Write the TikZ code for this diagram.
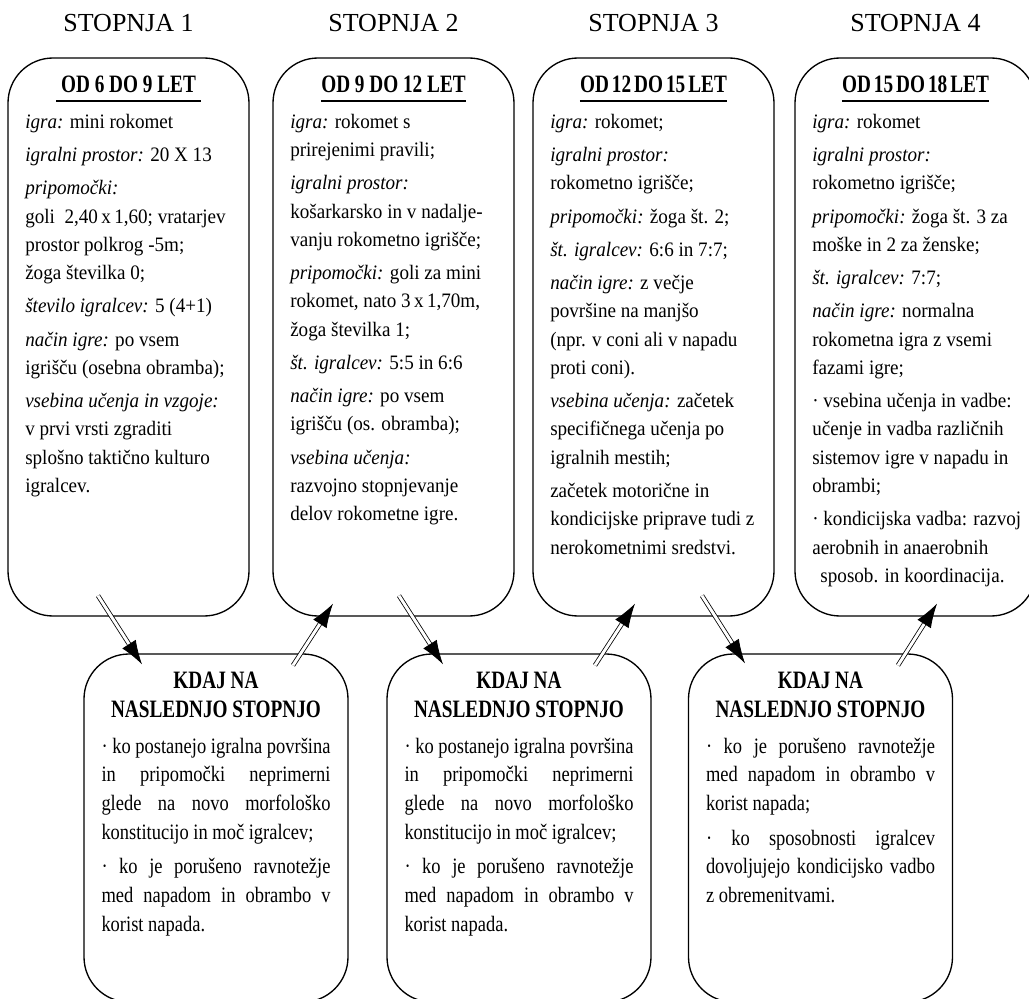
\documentclass[tikz,border=0pt]{standalone}
\usepackage{fontspec}
\setmainfont{Liberation Serif}
\newfontfamily\bodyfont{Liberation Serif}[FakeStretch=0.93]
\newfontfamily\hdrfont{Liberation Serif}[FakeStretch=0.77]
\newfontfamily\notefont{Liberation Serif}[FakeStretch=0.84]
\usetikzlibrary{arrows.meta}

\newcommand{\jl}[1]{\makebox[171.75pt][s]{#1}}
\newcommand{\firstline}{\rule{0pt}{0.8em}}

\begin{document}
\begin{tikzpicture}[x=0.75pt,y=-0.75pt,>=Latex,
  stagebox/.style={draw,line width=1pt,rounded corners=33.75pt,
    minimum width=180.75pt,minimum height=418.5pt,inner sep=0pt},
  kdajbox/.style={draw,line width=1pt,rounded corners=33.75pt,
    minimum width=198pt,minimum height=261pt,inner sep=0pt},
  stagelabel/.style={anchor=base,inner sep=0pt,
    font=\fontsize{19.5pt}{22pt}\selectfont},
  agehdr/.style={anchor=south,inner xsep=0pt,inner ysep=6pt,text depth=0pt,
    minimum width=108pt,font=\hdrfont\bfseries\fontsize{18.75pt}{20pt}\selectfont},
  bodytext/.style={anchor=north west,inner sep=0pt,align=left,
    font=\bodyfont\fontsize{15.4pt}{21.2pt}\selectfont},
  kdajhdr/.style={anchor=north,inner sep=0pt,align=center,
    font=\hdrfont\bfseries\fontsize{18.75pt}{21.75pt}\selectfont},
  kdajtext/.style={anchor=north,inner sep=0pt,align=left,
    font=\notefont\fontsize{16.5pt}{21.5pt}\selectfont},
  dblarrow/.style={double,double distance=2.2pt,line width=0.6pt,
    -{Latex[length=18pt,width=12pt]}}]
  \useasboundingbox (0,0) rectangle (1029,999);
  \fill[white] (0,0) rectangle (1029,999);
  \clip (0,0) rectangle (1029,999);

  % stages
  \node[stagelabel] (l1) at (128.5,32) {STOPNJA 1};
  \node[stagelabel] (l2) at (393.5,32) {STOPNJA 2};
  \node[stagelabel] (l3) at (653.5,32) {STOPNJA 3};
  \node[stagelabel] (l4) at (915.5,32) {STOPNJA 4};

  \node[stagebox] (s1) at (128.5,337) {};
  \node[stagebox] (s2) at (393.5,337) {};
  \node[stagebox] (s3) at (653.5,337) {};
  \node[stagebox] (s4) at (915.5,337) {};

  \node[agehdr] (h1) at (128.5,101) {OD 6 DO 9 LET};
  \node[agehdr] (h2) at (393.5,101) {OD 9 DO 12 LET};
  \node[agehdr] (h3) at (653.5,101) {\spaceskip=0.12em\relax OD 12 DO 15 LET};
  \node[agehdr] (h4) at (915.5,101) {\spaceskip=0.12em\relax OD 15 DO 18 LET};
  \draw[line width=1pt] (h1.south west) -- (h1.south east);
  \draw[line width=1pt] (h2.south west) -- (h2.south east);
  \draw[line width=1pt] (h3.south west) -- (h3.south east);
  \draw[line width=1pt] (h4.south west) -- (h4.south east);

  \node[bodytext] (t1) at (25,111.6) {\firstline\textit{igra:} mini rokomet\\[3.75pt]
    \textit{igralni prostor:} 20 X 13\\[3.75pt]
    \textit{pripomočki:}\\
    goli\ \ 2,40\,x\,1,60; vratarjev\\
    prostor polkrog -5m;\\
    žoga številka 0;\\[3.75pt]
    \textit{število igralcev:} 5 (4+1)\\[3.75pt]
    \textit{način igre:} po vsem\\
    igrišču (osebna obramba);\\[3.75pt]
    \textit{vsebina učenja in vzgoje:}\\
    v prvi vrsti zgraditi\\
    splošno taktično kulturo\\
    igralcev.};
  \node[bodytext] (t2) at (290,111.6) {\firstline\textit{igra:} rokomet s\\
    prirejenimi pravili;\\[3.75pt]
    \textit{igralni prostor:}\\
    košarkarsko in v nadalje-\\
    vanju rokometno igrišče;\\[3.75pt]
    \textit{pripomočki:} goli za mini\\
    rokomet, nato 3\,x\,1,70m,\\
    žoga številka 1;\\[3.75pt]
    \textit{št. igralcev:} 5:5 in 6:6\\[3.75pt]
    \textit{način igre:} po vsem\\
    igrišču (os. obramba);\\[3.75pt]
    \textit{vsebina učenja:}\\
    razvojno stopnjevanje\\
    delov rokometne igre.};
  \node[bodytext] (t3) at (550,111.6) {\firstline\textit{igra:} rokomet;\\[3.75pt]
    \textit{igralni prostor:}\\
    rokometno igrišče;\\[3.75pt]
    \textit{pripomočki:} žoga št. 2;\\[3.75pt]
    \textit{št. igralcev:} 6:6 in 7:7;\\[3.75pt]
    \textit{način igre:} z večje\\
    površine na manjšo\\
    (npr. v coni ali v napadu\\
    proti coni).\\[3.75pt]
    \textit{vsebina učenja:} začetek\\
    specifičnega učenja po\\
    igralnih mestih;\\[3.75pt]
    začetek motorične in\\
    kondicijske priprave tudi z\\
    nerokometnimi sredstvi.};
  \node[bodytext] (t4) at (812,111.6) {\firstline\textit{igra:} rokomet\\[3.75pt]
    \textit{igralni prostor:}\\
    rokometno igrišče;\\[3.75pt]
    \textit{pripomočki:} žoga št. 3 za\\
    moške in 2 za ženske;\\[3.75pt]
    \textit{št. igralcev:} 7:7;\\[3.75pt]
    \textit{način igre:} normalna\\
    rokometna igra z vsemi\\
    fazami igre;\\[3.75pt]
    · vsebina učenja in vadbe:\\
    učenje in vadba različnih\\
    sistemov igre v napadu in\\
    obrambi;\\[3.75pt]
    · kondicijska vadba: razvoj\\
    aerobnih in anaerobnih\\
    \hspace*{0.4em}sposob. in koordinacija.};

  % transitions
  \node[kdajbox] (k1) at (216,828) {};
  \node[kdajbox] (k2) at (519,828) {};
  \node[kdajbox] (k3) at (820.5,828) {};

  \node[kdajhdr] (kh1) at (216,668) {\firstline KDAJ NA\\NASLEDNJO STOPNJO};
  \node[kdajhdr] (kh2) at (519,668) {\firstline KDAJ NA\\NASLEDNJO STOPNJO};
  \node[kdajhdr] (kh3) at (820.5,668) {\firstline KDAJ NA\\NASLEDNJO STOPNJO};

  \node[kdajtext] (kt1) at (216,735.4) {\firstline\jl{· ko postanejo igralna površina}\\
    \jl{in pripomočki neprimerni}\\
    \jl{glede na novo morfološko}\\
    konstitucijo in moč igralcev;\\[4.5pt]
    \jl{· ko je porušeno ravnotežje}\\
    \jl{med napadom in obrambo v}\\
    korist napada.};
  \node[kdajtext] (kt2) at (519,735.4) {\firstline\jl{· ko postanejo igralna površina}\\
    \jl{in pripomočki neprimerni}\\
    \jl{glede na novo morfološko}\\
    konstitucijo in moč igralcev;\\[4.5pt]
    \jl{· ko je porušeno ravnotežje}\\
    \jl{med napadom in obrambo v}\\
    korist napada.};
  \node[kdajtext] (kt3) at (820.5,735.4) {\firstline\jl{· ko je porušeno ravnotežje}\\
    \jl{med napadom in obrambo v}\\
    korist napada;\\[4.5pt]
    \jl{· ko sposobnosti igralcev}\\
    \jl{dovoljujejo kondicijsko vadbo}\\
    z obremenitvami.};

  % arrow ends
  \coordinate (d1) at ([shift={(-30.5,-21)}]s1.south);
  \coordinate (e1) at ([shift={(-74,11)}]k1.north);
  \coordinate (u1) at ([shift={(77,12)}]k1.north);
  \coordinate (v1) at ([shift={(-60.5,-13)}]s2.south);
  \coordinate (d2) at ([shift={(5.5,-21)}]s2.south);
  \coordinate (e2) at ([shift={(-76,11)}]k2.north);
  \coordinate (u2) at ([shift={(76,12)}]k2.north);
  \coordinate (v2) at ([shift={(-18.5,-13)}]s3.south);
  \coordinate (d3) at ([shift={(48.5,-21)}]s3.south);
  \coordinate (e3) at ([shift={(-75.5,10)}]k3.north);
  \coordinate (u3) at ([shift={(77.5,12)}]k3.north);
  \coordinate (v3) at ([shift={(21.5,-13)}]s4.south);

  \draw[dblarrow] (d1) -- (e1);
  \draw[dblarrow] (u1) -- (v1);
  \draw[dblarrow] (d2) -- (e2);
  \draw[dblarrow] (u2) -- (v2);
  \draw[dblarrow] (d3) -- (e3);
  \draw[dblarrow] (u3) -- (v3);
\end{tikzpicture}
\end{document}
